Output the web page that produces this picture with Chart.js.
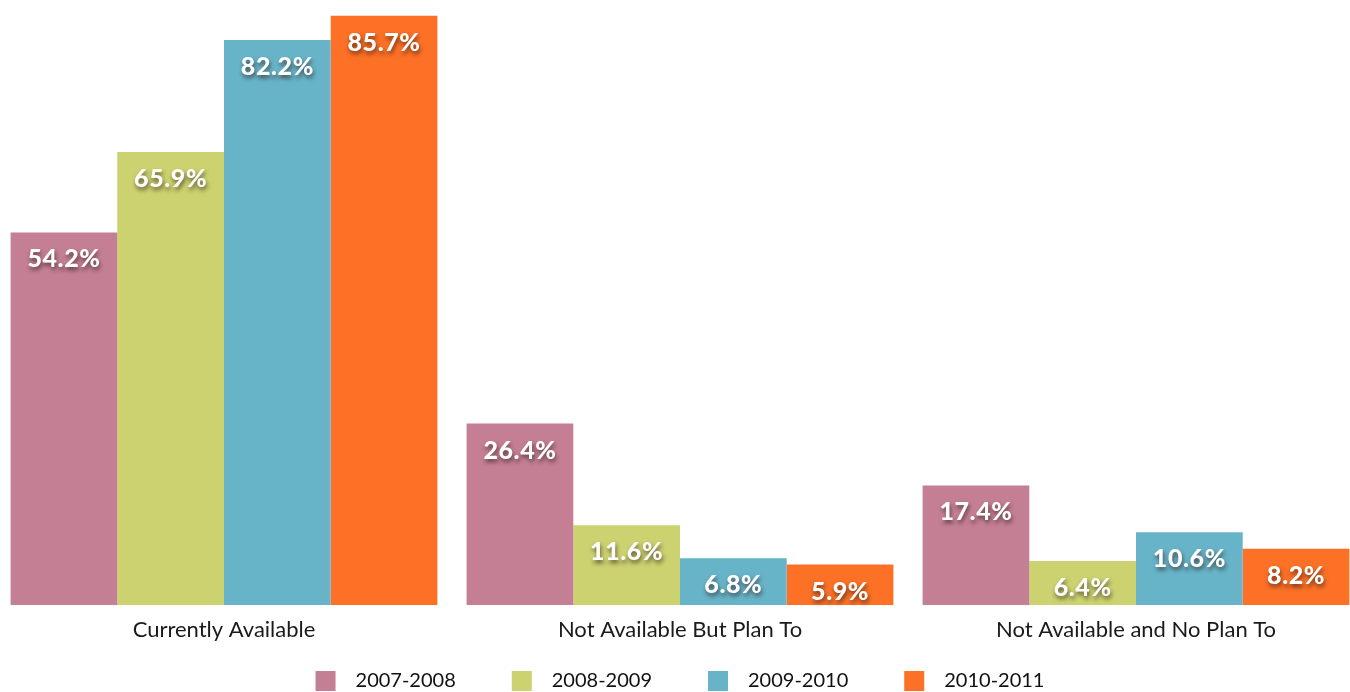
<!DOCTYPE html>
<html>
<head>
<meta charset="utf-8">
<script src="https://cdn.jsdelivr.net/npm/chart.js@4/dist/chart.umd.min.js"></script>
<style>
  html, body { margin: 0; padding: 0; background: #fff; overflow: hidden; }
  #wrap { position: absolute; left: -4px; top: 0; width: 1368px; height: 701px; }
</style>
</head>
<body>
<div id="wrap"><canvas id="chart"></canvas></div>
<script>
// categories and series (percent)
var categories = ['Currently Available', 'Not Available But Plan To', 'Not Available and No Plan To'];
var seriesNames = ['2007-2008', '2008-2009', '2009-2010', '2010-2011'];
var values2007 = [54.2, 26.4, 17.4];
var values2008 = [65.9, 11.6, 6.4];
var values2009 = [82.2, 6.8, 10.6];
var values2010 = [85.7, 5.9, 8.2];
var seriesColors = ['#C47F95', '#CBD26F', '#67B4C8', '#FC7126'];

var allValues = [values2007, values2008, values2009, values2010];

// white heavy value labels with drop shadow, just under the bar top
var valueLabels = {
    id: 'valueLabels',
    afterDatasetsDraw: function(chart) {
        var ctx = chart.ctx;
        chart.data.datasets.forEach(function(ds, i) {
            chart.getDatasetMeta(i).data.forEach(function(bar, j) {
                ctx.save();
                ctx.font = '900 25px Lato';
                ctx.letterSpacing = '0.6px';
                ctx.fillStyle = '#ffffff';
                ctx.textAlign = 'center';
                ctx.textBaseline = 'middle';
                ctx.shadowColor = 'rgba(40,20,20,0.65)';
                ctx.shadowOffsetX = 1;
                ctx.shadowOffsetY = 3;
                ctx.shadowBlur = 4;
                ctx.fillText(ds.data[j].toFixed(1) + '%', bar.x, bar.y + 27);
                ctx.restore();
            });
        });
    }
};

var ctx = document.getElementById('chart').getContext('2d');
new Chart(ctx, {
    type: 'bar',
    data: {
        labels: categories,
        datasets: seriesNames.map(function(name, i) {
            return {
                label: name,
                data: allValues[i],
                backgroundColor: seriesColors[i],
                borderWidth: 0,
                barPercentage: 1.0,
                categoryPercentage: 0.936
            };
        })
    },
    options: {
        responsive: true,
        maintainAspectRatio: false,
        animation: false,
        layout: { padding: 0 },
        plugins: {
            tooltip: { enabled: false },
            legend: {
                position: 'bottom',
                labels: {
                    boxWidth: 20,
                    boxHeight: 20,
                    padding: 56,
                    color: '#111',
                    font: { family: 'Lato', size: 20 },
                    generateLabels: function(chart) {
                        // wider gap between swatch and text
                        return Chart.defaults.plugins.legend.labels.generateLabels(chart).map(function(item) {
                            item.text = '\u2002' + item.text;
                            return item;
                        });
                    }
                }
            }
        },
        scales: {
            x: {
                grid: { display: false, drawTicks: false },
                border: { display: false },
                ticks: {
                    mirror: true,
                    padding: -38,
                    color: '#1a1a1a',
                    font: { family: 'Lato', size: 22 }
                },
                afterFit: function(scale) { scale.height = 10; }
            },
            y: {
                display: false,
                min: 0,
                max: 88
            }
        }
    },
    plugins: [valueLabels]
});
</script>
</body>
</html>
